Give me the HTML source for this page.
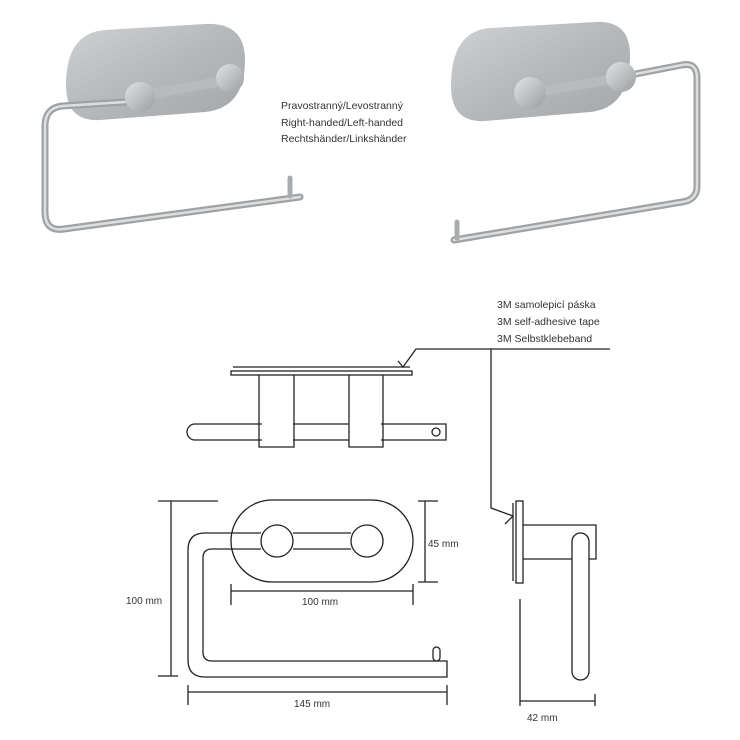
<!DOCTYPE html>
<html><head><meta charset="utf-8"><style>
body{margin:0;background:#fff;width:740px;height:740px;overflow:hidden}
svg{display:block}
text{font-family:"Liberation Sans",sans-serif;fill:#333}
</style></head><body>
<svg width="740" height="740" viewBox="0 0 740 740" xmlns="http://www.w3.org/2000/svg">
<defs>
<linearGradient id="pl" x1="0" y1="0" x2="1" y2="1"><stop offset="0" stop-color="#cfd1d3"/><stop offset="0.5" stop-color="#b6b9bc"/><stop offset="1" stop-color="#a3a6a9"/></linearGradient>
<linearGradient id="kn" x1="0" y1="0" x2="1" y2="1"><stop offset="0" stop-color="#e2e3e5"/><stop offset="1" stop-color="#9a9da1"/></linearGradient>
</defs>
<!-- left photo -->
<path d="M105 30 L205 24 Q245 22 245 60 Q245 108 205 112 L100 120 Q66 122 66 85 Q66 33 105 30 Z" fill="url(#pl)"/>
<path d="M125 102 L62 106 Q45 108 45 126 L45 212 Q45 232 64 229 L300 197" fill="none" stroke="#9fa2a5" stroke-width="7" stroke-linecap="round"/>
<path d="M125 102 L62 106 Q45 108 45 126 L45 212 Q45 232 64 229 L300 197" fill="none" stroke="#dcdee0" stroke-width="2.5" stroke-linecap="round"/>
<line x1="290" y1="178" x2="290" y2="196" stroke="#a9acaf" stroke-width="5" stroke-linecap="round"/>
<line x1="140" y1="96" x2="228" y2="80" stroke="#b8bbbe" stroke-width="10"/>
<circle cx="140" cy="97" r="15" fill="url(#kn)"/>
<circle cx="230" cy="78" r="14" fill="url(#kn)"/>
<!-- right photo -->
<path d="M490 28 L595 22 Q630 20 630 55 Q630 108 590 112 L485 121 Q451 123 451 86 Q451 31 490 28 Z" fill="url(#pl)"/>
<path d="M625 76 L682 65 Q697 62 697 78 L697 186 Q697 200 682 202 L454 240" fill="none" stroke="#9fa2a5" stroke-width="7" stroke-linecap="round"/>
<path d="M625 76 L682 65 Q697 62 697 78 L697 186 Q697 200 682 202 L454 240" fill="none" stroke="#dcdee0" stroke-width="2.5" stroke-linecap="round"/>
<line x1="457" y1="222" x2="457" y2="238" stroke="#a9acaf" stroke-width="5" stroke-linecap="round"/>
<line x1="530" y1="93" x2="620" y2="78" stroke="#b8bbbe" stroke-width="10"/>
<circle cx="530" cy="93" r="16" fill="url(#kn)"/>
<circle cx="621" cy="77" r="15" fill="url(#kn)"/>
<g font-size="10.5">
<text x="281" y="109">Pravostranný/Levostranný</text>
<text x="281" y="126">Right-handed/Left-handed</text>
<text x="281" y="142">Rechtshänder/Linkshänder</text>
<text x="497" y="308">3M samolepicí páska</text>
<text x="497" y="325">3M self-adhesive tape</text>
<text x="497" y="342">3M Selbstklebeband</text>
</g>
<g fill="none" stroke="#222" stroke-width="1.3">
<polyline points="398,361 403,367 416,349 610,349"/>
<polyline points="491,349 491,508 513,516"/>
<line x1="513" y1="516" x2="505" y2="524"/>
<line x1="233" y1="367" x2="410" y2="367"/>
<rect x="231" y="371" width="181" height="4" fill="#fff"/>
<path d="M262 424 L195 424 A8 8 0 0 0 195 440 L262 440"/>
<path d="M293 424 L349 424 M293 440 L349 440"/>
<path d="M381 424 L446 424 L446 440 L381 440"/>
<circle cx="436" cy="432" r="4"/>
<path d="M259 375 L259 447 L294 447 L294 375"/>
<path d="M349 375 L349 447 L383 447 L383 375"/>
<rect x="231" y="500" width="182" height="82" rx="41"/>
<path d="M261 533 L205 533 Q188 533 188 550 L188 660 Q188 677 205 677 L447 677 L447 661 L433 661"/>
<path d="M261 549 L212 549 Q203 549 203 558 L203 652 Q203 661 212 661 L433 661"/>
<rect x="433" y="647" width="7" height="14" rx="3.5"/>
<line x1="293" y1="533" x2="351" y2="533"/><line x1="293" y1="549" x2="351" y2="549"/>
<circle cx="277" cy="541" r="16"/><circle cx="367" cy="541" r="16"/>
<line x1="171" y1="501" x2="171" y2="676"/><line x1="158" y1="501" x2="218" y2="501"/><line x1="158" y1="676" x2="178" y2="676"/>
<line x1="425" y1="501" x2="425" y2="582"/><line x1="418" y1="501" x2="438" y2="501"/><line x1="418" y1="582" x2="438" y2="582"/>
<line x1="231" y1="591" x2="413" y2="591"/><line x1="231" y1="584" x2="231" y2="605"/><line x1="413" y1="584" x2="413" y2="605"/>
<line x1="188" y1="692" x2="447" y2="692"/><line x1="188" y1="685" x2="188" y2="705"/><line x1="447" y1="685" x2="447" y2="705"/>
<line x1="513" y1="503" x2="513" y2="581"/>
<rect x="516" y="501" width="7" height="82"/>
<path d="M523 525 L596 525 L596 559 L589 559 M572 559 L523 559"/>
<rect x="572" y="533" width="17" height="147" rx="8.5"/>
<line x1="520" y1="599" x2="520" y2="706"/><line x1="520" y1="701" x2="595" y2="701"/><line x1="595" y1="694" x2="595" y2="706"/>
</g>
<g font-size="10">
<text x="126" y="604">100 mm</text>
<text x="428" y="547">45 mm</text>
<text x="302" y="605">100 mm</text>
<text x="294" y="707">145 mm</text>
<text x="527" y="721">42 mm</text>
</g>
</svg>
</body></html>
